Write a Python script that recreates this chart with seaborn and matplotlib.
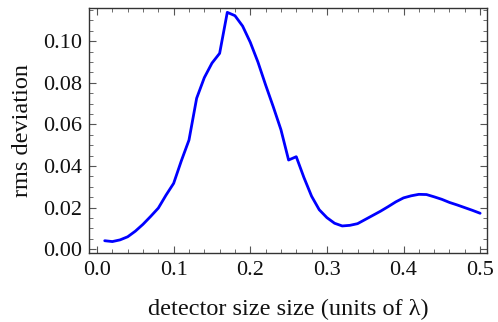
import numpy as np
import pandas as pd
import matplotlib
matplotlib.use("Agg")
import matplotlib.pyplot as plt
from matplotlib.ticker import MultipleLocator
import seaborn as sns

# detector size in units of lambda
detector_size = [0.01, 0.02, 0.03, 0.04, 0.05, 0.06, 0.07, 0.08, 0.09, 0.10,
                 0.11, 0.12, 0.13, 0.14, 0.15, 0.16, 0.17, 0.18, 0.19, 0.20,
                 0.21, 0.22, 0.23, 0.24, 0.25, 0.26, 0.27, 0.28, 0.29, 0.30,
                 0.31, 0.32, 0.33, 0.34, 0.35, 0.36, 0.37, 0.38, 0.39, 0.40,
                 0.41, 0.42, 0.43, 0.44, 0.45, 0.46, 0.47, 0.48, 0.49, 0.50]

# rms deviation for each detector size
rms_deviation = [0.0041, 0.0037, 0.0045, 0.0060, 0.0087, 0.0120, 0.0158, 0.0198, 0.0260, 0.0317,
                 0.0425, 0.0525, 0.0726, 0.0825, 0.0895, 0.0942, 0.1139, 0.1123, 0.1073, 0.0995,
                 0.0900, 0.0790, 0.0685, 0.0575, 0.0429, 0.0445, 0.0345, 0.0255, 0.0190, 0.0152,
                 0.0125, 0.0112, 0.0115, 0.0123, 0.0143, 0.0163, 0.0183, 0.0205, 0.0228, 0.0247,
                 0.0257, 0.0264, 0.0263, 0.0252, 0.0240, 0.0225, 0.0213, 0.0200, 0.0187, 0.0173]

x_ticks = [0.0, 0.1, 0.2, 0.3, 0.4, 0.5]
x_tick_labels = ["0.0", "0.1", "0.2", "0.3", "0.4", "0.5"]
y_ticks = [0.00, 0.02, 0.04, 0.06, 0.08, 0.10]
y_tick_labels = ["0.00", "0.02", "0.04", "0.06", "0.08", "0.10"]

sns.set_style("ticks")
plt.rcParams["font.family"] = ["Liberation Serif", "DejaVu Serif"]

df = pd.DataFrame({"size": detector_size, "rms": rms_deviation})

fig = plt.figure(figsize=(4.98, 3.22), dpi=100)
ax = fig.add_axes([0.1787, 0.2143, 0.7993, 0.7609])

sns.lineplot(data=df, x="size", y="rms", ax=ax, color="#0000ff", linewidth=2.0)

ax.set_xlim(-0.0105, 0.509)
ax.set_ylim(-0.0018, 0.116)

ax.set_xticks(x_ticks)
ax.set_xticklabels(x_tick_labels)
ax.set_yticks(y_ticks)
ax.set_yticklabels(y_tick_labels)
ax.xaxis.set_minor_locator(MultipleLocator(0.02))
ax.yaxis.set_minor_locator(MultipleLocator(0.005))

frame_color = "#333333"
for side in ["left", "right", "top", "bottom"]:
    ax.spines[side].set_visible(True)
    ax.spines[side].set_color(frame_color)
    ax.spines[side].set_linewidth(1.0)

ax.tick_params(which="both", direction="in", top=True, right=True,
               color="#555555", labelsize=16, labelcolor="#111111")
ax.tick_params(which="major", length=5, width=0.8)
ax.tick_params(which="minor", length=2.8, width=0.6)
ax.tick_params(axis="x", which="major", pad=6)
ax.tick_params(axis="y", which="major", pad=5)

ax.set_xlabel("detector size size (units of λ)", fontsize=17.5, color="#111111", labelpad=13)
ax.set_ylabel("rms deviation", fontsize=17.5, color="#111111", labelpad=7)

fig.savefig("out.png", dpi=100)
